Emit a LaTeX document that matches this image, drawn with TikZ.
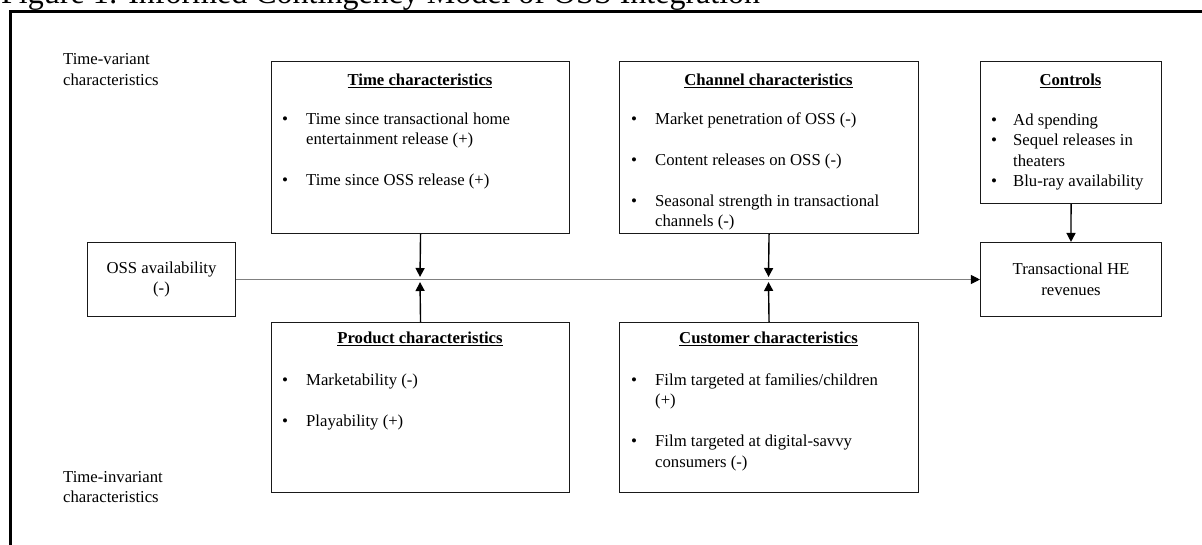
\documentclass[tikz,border=0pt]{standalone}
\usepackage{fontspec}
\setmainfont{Liberation Serif}
\usetikzlibrary{arrows.meta}
\newcommand\hdul[1]{\setbox0=\hbox{#1}\leavevmode\rlap{\copy0}\rule[-2.8pt]{\wd0}{1.1pt}}
\newcommand\bul{{\fontsize{17}{17}\selectfont\textbullet}}
\begin{document}
\begin{tikzpicture}[x=1pt,y=-1pt,
  box/.style={draw=black!90, line width=1.1pt, inner sep=0pt, anchor=north west},
  cbox/.style={draw=black!90, line width=1.1pt, inner sep=0pt, align=center, font=\fontsize{16.7}{20.5}\selectfont},
  tx/.style={anchor=base west, inner sep=0pt, font=\fontsize{16.7}{20.5}\selectfont},
  hd/.style={anchor=base, inner sep=0pt, font=\fontsize{16.7}{20.5}\selectfont\bfseries},
  arr/.style={line width=1.4pt, -{Triangle[length=9pt,width=9pt]}},
  flow/.style={draw=black!50, line width=1pt, -{Triangle[length=9pt,width=9pt,color=black]}},
]
\useasboundingbox (0,0) rectangle (1202,544);
\clip (0,0) rectangle (1202,544);
% title and frame
\node[anchor=base west, inner sep=0pt, font=\fontsize{32}{38}\selectfont] (title) at (1,3) {Figure 1: Informed Contingency Model of OSS Integration};
\draw[line width=3pt] (10,560) -- (10,11.5) -- (1220,11.5);
% side labels
\node[tx] (tv1) at (63,64.5) {Time-variant};
\node[tx] (tv2) at (63,85) {characteristics};
\node[tx] (ti1) at (63,482) {Time-invariant};
\node[tx] (ti2) at (63,502.5) {characteristics};
% boxes
\node[box, minimum width=298pt, minimum height=172pt] (time) at (271,61) {};
\node[box, minimum width=299pt, minimum height=172pt] (chan) at (619,61) {};
\node[box, minimum width=181pt, minimum height=142pt] (ctrl) at (980,61) {};
\node[box, minimum width=298pt, minimum height=170pt] (prod) at (271,322) {};
\node[box, minimum width=299pt, minimum height=170pt] (cust) at (619,322) {};
\node[cbox, minimum width=148pt, minimum height=74pt] (oss) at (161.5,279.5) {OSS availability\\(-)};
\node[cbox, minimum width=181pt, minimum height=74pt] (he) at (1071,279.5) {Transactional HE\\revenues};
% time box
\node[hd] (timeh) at (420,85) {\hdul{Time characteristics}};
\node[tx] (tb1) at (282,124) {\bul};
\node[tx] (tt1) at (306,124) {Time since transactional home};
\node[tx] (tt1b) at (306,144.5) {entertainment release (+)};
\node[tx] (tb2) at (282,185) {\bul};
\node[tx] (tt2) at (306,185) {Time since OSS release (+)};
% channel box
\node[hd] (chanh) at (768.5,85) {\hdul{Channel characteristics}};
\node[tx] (cb1) at (631,124) {\bul};
\node[tx] (ct1) at (655,124) {Market penetration of OSS (-)};
\node[tx] (cb2) at (631,165) {\bul};
\node[tx] (ct2) at (655,165) {Content releases on OSS (-)};
\node[tx] (cb3) at (631,206) {\bul};
\node[tx] (ct3) at (655,206) {Seasonal strength in transactional};
\node[tx] (ct3b) at (655,226.5) {channels (-)};
% controls box
\node[hd] (ctrlh) at (1070.5,85) {\hdul{Controls}};
\node[tx] (kb1) at (991,125) {\bul};
\node[tx] (kt1) at (1013,125) {Ad spending};
\node[tx] (kb2) at (991,145.5) {\bul};
\node[tx] (kt2) at (1013,145.5) {Sequel releases in};
\node[tx] (kt2b) at (1013,166) {theaters};
\node[tx] (kb3) at (991,186.5) {\bul};
\node[tx] (kt3) at (1013,186.5) {Blu-ray availability};
% product box
\node[hd] (prodh) at (420,343) {\hdul{Product characteristics}};
\node[tx] (pb1) at (282,385) {\bul};
\node[tx] (pt1) at (306,385) {Marketability (-)};
\node[tx] (pb2) at (282,426) {\bul};
\node[tx] (pt2) at (306,426) {Playability (+)};
% customer box
\node[hd] (custh) at (768.5,343) {\hdul{Customer characteristics}};
\node[tx] (ub1) at (631,385) {\bul};
\node[tx] (ut1) at (655,385) {Film targeted at families/children};
\node[tx] (ut1b) at (655,405.5) {(+)};
\node[tx] (ub2) at (631,446.5) {\bul};
\node[tx] (ut2) at (655,446.5) {Film targeted at digital-savvy};
\node[tx] (ut2b) at (655,467) {consumers (-)};
% connectors
\coordinate (j1t) at (420,277);
\coordinate (j1b) at (420,282);
\coordinate (j2t) at (768.5,277);
\coordinate (j2b) at (768.5,282);
\draw[flow] (oss.east) -- (he.west);
\draw[arr] (time.south) -- (j1t);
\draw[arr] (prod.north) -- (j1b);
\draw[arr] (chan.south) -- (j2t);
\draw[arr] (cust.north) -- (j2b);
\draw[arr] (ctrl.south) -- (he.north);
\end{tikzpicture}
\end{document}
